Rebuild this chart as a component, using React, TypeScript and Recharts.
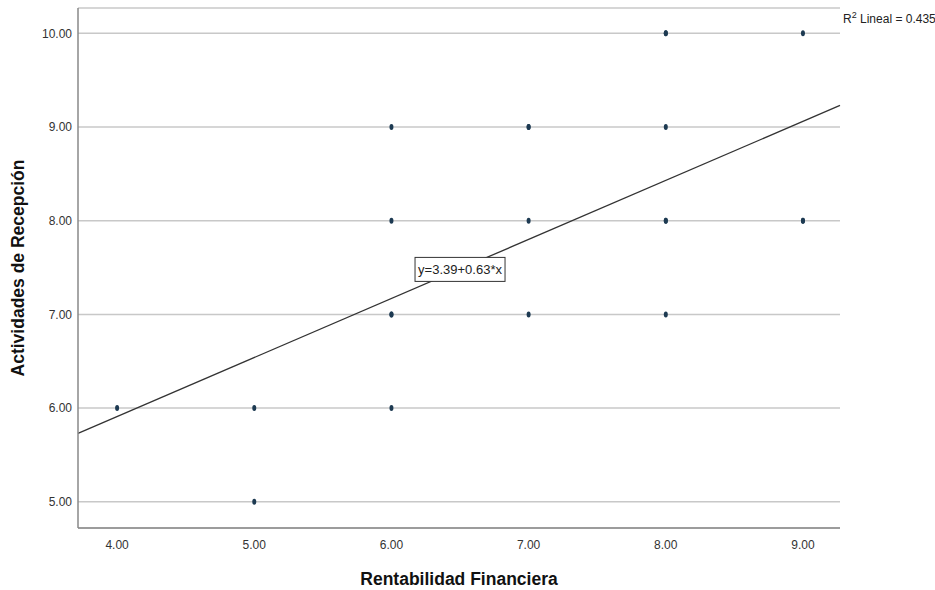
import React from 'react';
import {
  ScatterChart,
  Scatter,
  XAxis,
  YAxis,
  CartesianGrid,
  ReferenceLine,
  ReferenceDot,
  Label,
} from 'recharts';

// Rentabilidad Financiera (x) vs Actividades de Recepción (y)
const rentabilidad = [4, 5, 5, 6, 6, 6, 6, 6, 7, 7, 7, 7, 8, 8, 8, 8, 8, 8, 9, 9, 9];
const actividades = [6, 6, 5, 9, 8, 7, 7, 6, 9, 9, 8, 7, 10, 10, 9, 8, 8, 7, 10, 8, 8];

const xTicks = [4, 5, 6, 7, 8, 9];
const yTicks = [5, 6, 7, 8, 9, 10];

// ajuste lineal
const intercept = 3.39;
const slope = 0.63;
const r2 = 0.435;

const X_DOMAIN: [number, number] = [3.715, 9.27];
const Y_DOMAIN: [number, number] = [4.72, 10.27];

const FONT = '"Liberation Sans", Arial, sans-serif';
const POINT_COLOR = '#1d3a52';

const points = rentabilidad.map((x, i) => ({ x, y: actividades[i] }));
const fitLine = X_DOMAIN.map((x) => ({ x, y: intercept + slope * x }));

const Dot = (props: any) => {
  const { cx, cy } = props;
  return <ellipse cx={cx} cy={cy} rx={2} ry={3} fill={POINT_COLOR} />;
};

const EquationBox = (props: any) => {
  const { cx, cy } = props;
  return (
    <g>
      <rect x={cx - 45} y={cy - 12} width={90} height={24} fill="#fff" stroke="#333" strokeWidth={1} />
      <text x={cx} y={cy + 5} textAnchor="middle" fontFamily={FONT} fontSize={13} fill="#222">
        {`y=${intercept.toFixed(2)}+${slope.toFixed(2)}*x`}
      </text>
    </g>
  );
};

export default function App() {
  return (
    <div style={{ position: 'absolute', left: 0, top: 0, width: 935, height: 590, background: '#fff' }}>
      <ScatterChart width={935} height={590} margin={{ top: 8, right: 95, bottom: 0, left: 0 }}>
        <CartesianGrid vertical={false} stroke="#c8c8c8" strokeWidth={1.5} />
        <XAxis
          type="number"
          dataKey="x"
          domain={X_DOMAIN}
          ticks={xTicks}
          allowDataOverflow
          tickFormatter={(v: number) => v.toFixed(2)}
          tickLine={false}
          tickSize={0}
          tickMargin={12}
          height={62}
          axisLine={{ stroke: '#888', strokeWidth: 1.5 }}
          tick={{ fontFamily: FONT, fontSize: 12, fill: '#333' }}
        >
          <Label
            value="Rentabilidad Financiera"
            position="insideBottom"
            offset={5}
            style={{ fontFamily: FONT, fontSize: 17.5, fontWeight: 'bold', fill: '#111' }}
          />
        </XAxis>
        <YAxis
          type="number"
          dataKey="y"
          domain={Y_DOMAIN}
          ticks={yTicks}
          allowDataOverflow
          tickFormatter={(v: number) => v.toFixed(2)}
          tickLine={false}
          tickSize={0}
          tickMargin={6}
          width={78}
          axisLine={{ stroke: '#888', strokeWidth: 1.5 }}
          tick={{ fontFamily: FONT, fontSize: 12, fill: '#333' }}
        >
          <Label
            value="Actividades de Recepción"
            angle={-90}
            position="insideLeft"
            offset={18}
            style={{ textAnchor: 'middle', fontFamily: FONT, fontSize: 17.5, fontWeight: 'bold', fill: '#111' }}
          />
        </YAxis>
        <ReferenceLine
          segment={fitLine}
          stroke="#333"
          strokeWidth={1.3}
          ifOverflow="visible"
        />
        <Scatter data={points} shape={<Dot />} isAnimationActive={false} />
        <ReferenceDot x={6.5} y={7.48} r={0} shape={<EquationBox />} ifOverflow="visible" />
      </ScatterChart>
      <div
        style={{
          position: 'absolute',
          left: 843,
          top: 10,
          fontFamily: FONT,
          fontSize: 12,
          color: '#222',
          whiteSpace: 'nowrap',
        }}
      >
        R<sup style={{ fontSize: 9 }}>2</sup> Lineal = {r2.toFixed(3)}
      </div>
    </div>
  );
}
